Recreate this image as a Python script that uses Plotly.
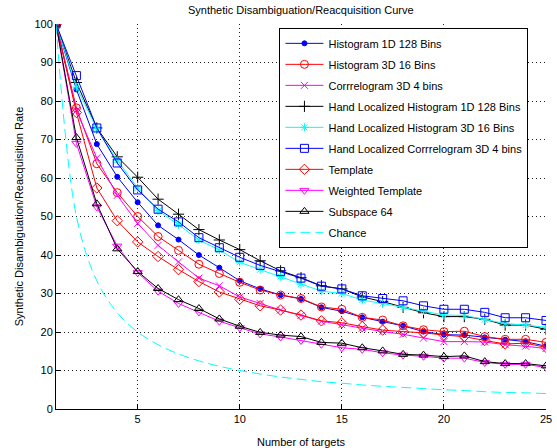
import plotly.graph_objects as go

targets = list(range(1, 26))

hist_1d_128 = [100, 83, 68.8, 60.3, 53.7, 47.7, 44.0, 40.0, 36.7, 33.3, 31.2, 29.6, 28.6, 26.4, 25.4, 23.8, 22.7, 21.6, 20.1, 19.3, 19.2, 18.6, 18.0, 17.5, 16.3]
hist_3d_16 = [100, 78.2, 63.7, 56.2, 50.0, 44.8, 41.2, 37.6, 35.2, 32.9, 30.9, 29.6, 28.7, 26.5, 25.9, 23.8, 23.1, 21.6, 20.6, 20.1, 20.2, 18.8, 18.1, 18.1, 17.3]
corr_3d_4 = [100, 77.5, 65.2, 55.5, 48.2, 42.5, 38.2, 34.0, 32.0, 29.1, 27.4, 25.7, 24.3, 22.8, 21.9, 21.0, 20.1, 19.4, 18.4, 17.5, 17.5, 17.4, 16.7, 16.3, 15.7]
hl_hist_1d_128 = [100, 84.8, 73.0, 65.5, 60.2, 54.5, 50.6, 46.6, 43.9, 41.4, 38.5, 35.9, 34.1, 32.0, 31.2, 29.1, 27.9, 26.4, 25.0, 24.0, 24.0, 23.3, 21.8, 21.8, 20.7]
hl_hist_3d_16 = [100, 83.6, 72.8, 64.6, 57.4, 51.5, 47.9, 43.9, 41.3, 38.1, 36.2, 34.4, 32.4, 30.6, 30.0, 28.3, 27.4, 26.4, 25.5, 24.4, 24.3, 23.2, 22.2, 21.8, 21.2]
hl_corr_3d_4 = [100, 86.6, 73.0, 63.9, 56.9, 51.9, 48.6, 44.5, 41.9, 39.4, 37.3, 35.7, 34.0, 31.9, 31.2, 29.4, 28.7, 28.1, 26.8, 25.9, 25.9, 25.1, 23.7, 23.7, 23.0]
template = [100, 77.0, 57.4, 48.9, 43.4, 39.6, 36.2, 33.1, 30.4, 28.5, 26.8, 25.7, 24.4, 22.9, 22.4, 21.4, 20.5, 20.1, 19.8, 19.2, 18.8, 17.8, 16.9, 17.1, 16.0]
weighted_template = [100, 69.0, 52.5, 42.3, 35.4, 30.6, 27.4, 25.2, 22.8, 21.1, 19.5, 18.7, 17.8, 16.8, 15.9, 15.5, 14.6, 14.0, 13.7, 13.2, 13.2, 12.1, 11.6, 11.6, 10.8]
subspace_64 = [100, 70.5, 53.3, 41.6, 35.7, 31.3, 28.4, 26.1, 23.4, 21.5, 19.9, 19.2, 18.8, 17.3, 17.1, 15.9, 15.1, 14.2, 14.0, 13.6, 13.8, 12.3, 11.8, 11.8, 11.2]
chance = [100, 50, 33.3, 25, 20, 16.7, 14.3, 12.5, 11.1, 10, 9.1, 8.3, 7.7, 7.1, 6.7, 6.25, 5.9, 5.6, 5.3, 5, 4.8, 4.5, 4.3, 4.2, 4]

x_ticks = [5, 10, 15, 20, 25]
y_ticks = [0, 10, 20, 30, 40, 50, 60, 70, 80, 90, 100]

series = [
    ("Histogram 1D 128 Bins", hist_1d_128, "#0000ff", "circle", 5),
    ("Histogram 3D 16 Bins", hist_3d_16, "#ff0000", "circle-open", 8),
    ("Corrrelogram 3D 4 bins", corr_3d_4, "#ff00ff", "x-thin-open", 7),
    ("Hand Localized Histogram 1D 128 Bins", hl_hist_1d_128, "#000000", "cross-thin-open", 8),
    ("Hand Localized Histogram 3D 16 Bins", hl_hist_3d_16, "#00ffff", "asterisk-open", 7),
    ("Hand Localized Corrrelogram 3D 4 bins", hl_corr_3d_4, "#0000ff", "square-open", 8),
    ("Template", template, "#ff0000", "diamond-open", 8),
    ("Weighted Template", weighted_template, "#ff00ff", "triangle-down-open", 8),
    ("Subspace 64", subspace_64, "#000000", "triangle-up-open", 8),
]

fig = go.Figure()
for i, (name, vals, color, sym, size) in enumerate(series):
    fig.add_trace(go.Scatter(
        x=targets, y=vals, name=name, mode="lines+markers",
        legendgroup="g%d" % i,
        line=dict(color=color, width=1),
        marker=dict(symbol=sym, size=size, color=color, line=dict(color=color, width=1)),
    ))
fig.add_trace(go.Scatter(
    x=targets, y=chance, name="Chance", mode="lines", legendgroup="g9",
    line=dict(color="#00ffff", width=1, dash="10px,5px", shape="spline", smoothing=1.0),
))

axis_common = dict(
    showline=True, linecolor="black", linewidth=1, mirror=False,
    ticks="inside", ticklen=5, tickcolor="black", tickwidth=1,
    showgrid=True, gridcolor="#222222", gridwidth=1, griddash="1px,3px",
    zeroline=False, tickfont=dict(size=11, color="black"), automargin=False,
)

fig.update_layout(
    width=557, height=448,
    margin=dict(l=56, r=11, t=24, b=39),
    paper_bgcolor="white", plot_bgcolor="white",
    font=dict(family="Liberation Sans, Arial, sans-serif", size=11, color="black"),
    title=dict(text="Synthetic Disambiguation/Reacquisition Curve", x=0.54, xanchor="center",
               y=0.985, yanchor="top", font=dict(size=11)),
    xaxis=dict(range=[1, 25], tickvals=x_ticks,
               title=dict(text="Number of targets", standoff=14, font=dict(size=11)), **axis_common),
    yaxis=dict(range=[0, 100], tickvals=y_ticks,
               title=dict(text="Synthetic Disambiguation/Reacquisition Rate", standoff=8, font=dict(size=11)), **axis_common),
    legend=dict(x=0.456, y=0.99, xanchor="left", yanchor="top",
                bgcolor="white", bordercolor="black", borderwidth=1,
                font=dict(size=11), tracegroupgap=2, itemwidth=38, traceorder="grouped"),
    showlegend=True,
)

fig.write_html("out.html", config={"displayModeBar": False},
               post_script="document.body.style.margin='0px';")
